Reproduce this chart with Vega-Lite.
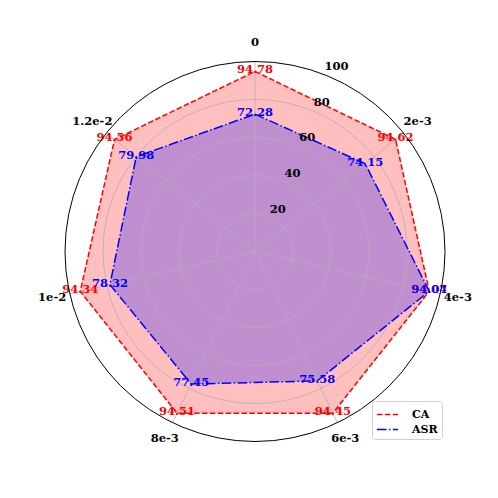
{
  "$schema": "https://vega.github.io/schema/vega-lite/v6.json",
  "width": 498,
  "height": 498,
  "padding": 0,
  "autosize": {"type": "none"},
  "background": "white",
  "config": {"view": {"stroke": null}},
  "datasets": {
    "radar": [
      {"idx": 0, "label": "0", "CA": 94.78, "ASR": 72.28},
      {"idx": 1, "label": "2e-3", "CA": 94.62, "ASR": 74.15},
      {"idx": 2, "label": "4e-3", "CA": 94.07, "ASR": 94.04},
      {"idx": 3, "label": "6e-3", "CA": 94.45, "ASR": 75.58},
      {"idx": 4, "label": "8e-3", "CA": 94.51, "ASR": 77.45},
      {"idx": 5, "label": "1e-2", "CA": 94.34, "ASR": 78.32},
      {"idx": 6, "label": "1.2e-2", "CA": 94.56, "ASR": 79.98}
    ],
    "rings": [{"r": 20}, {"r": 40}, {"r": 60}, {"r": 80}],
    "outer": [{"r": 100}],
    "rticks": [{"r": 20}, {"r": 40}, {"r": 60}, {"r": 80}, {"r": 100}]
  },
  "layer": [
    {
      "data": {"name": "radar"},
      "transform": [
        {"calculate": "datum.idx*2*PI/7", "as": "ang"},
        {"calculate": "datum.CA*sin(datum.ang)", "as": "px"},
        {"calculate": "datum.CA*cos(datum.ang)", "as": "py"}
      ],
      "mark": {"type": "line", "interpolate": "linear-closed", "fill": "#ff0000", "fillOpacity": 0.25, "strokeWidth": 0, "strokeOpacity": 0},
      "encoding": {
        "x": {"field": "px", "type": "quantitative", "scale": {"domain": [-134.21, 127.89], "nice": false, "zero": false}, "axis": null},
        "y": {"field": "py", "type": "quantitative", "scale": {"domain": [-129.74, 132.37], "nice": false, "zero": false}, "axis": null},
        "order": {"field": "idx", "type": "quantitative"}
      }
    },
    {
      "data": {"name": "radar"},
      "transform": [
        {"calculate": "datum.idx*2*PI/7", "as": "ang"},
        {"calculate": "datum.ASR*sin(datum.ang)", "as": "px"},
        {"calculate": "datum.ASR*cos(datum.ang)", "as": "py"}
      ],
      "mark": {"type": "line", "interpolate": "linear-closed", "fill": "#0000ff", "fillOpacity": 0.25, "strokeWidth": 0, "strokeOpacity": 0},
      "encoding": {
        "x": {"field": "px", "type": "quantitative", "axis": null},
        "y": {"field": "py", "type": "quantitative", "axis": null},
        "order": {"field": "idx", "type": "quantitative"}
      }
    },
    {
      "data": {"name": "rings"},
      "mark": {"type": "point", "shape": "circle", "filled": false, "stroke": "#b0b0b0", "strokeWidth": 0.8, "opacity": 1},
      "encoding": {
        "x": {"datum": 0, "type": "quantitative", "axis": null},
        "y": {"datum": 0, "type": "quantitative", "axis": null},
        "size": {"field": "r", "type": "quantitative", "scale": {"type": "pow", "exponent": 2, "domain": [0, 100], "range": [0, 144400]}, "legend": null}
      }
    },
    {
      "data": {"name": "radar"},
      "transform": [
        {"calculate": "datum.idx*2*PI/7", "as": "ang"},
        {"calculate": "100*sin(datum.ang)", "as": "sx"},
        {"calculate": "100*cos(datum.ang)", "as": "sy"}
      ],
      "mark": {"type": "rule", "stroke": "#b0b0b0", "strokeWidth": 0.8},
      "encoding": {
        "x": {"field": "sx", "type": "quantitative", "axis": null},
        "y": {"field": "sy", "type": "quantitative", "axis": null},
        "x2": {"datum": 0},
        "y2": {"datum": 0}
      }
    },
    {
      "data": {"name": "radar"},
      "transform": [
        {"fold": ["CA", "ASR"], "as": ["series", "v"]},
        {"calculate": "datum.idx*2*PI/7", "as": "ang"},
        {"calculate": "datum.v*sin(datum.ang)", "as": "px"},
        {"calculate": "datum.v*cos(datum.ang)", "as": "py"}
      ],
      "mark": {"type": "line", "interpolate": "linear-closed", "strokeWidth": 1.5},
      "encoding": {
        "x": {"field": "px", "type": "quantitative", "axis": null},
        "y": {"field": "py", "type": "quantitative", "axis": null},
        "order": {"field": "idx", "type": "quantitative"},
        "color": {
          "field": "series", "type": "nominal",
          "scale": {"domain": ["CA", "ASR"], "range": ["#ff0000", "#0000ff"]},
          "legend": {"title": null, "orient": "none", "legendX": 372, "legendY": 401, "padding": 4, "strokeColor": "#d0d0d0", "fillColor": "white", "cornerRadius": 3, "symbolType": "M-1.24,0H1.24", "symbolSize": 289, "symbolOffset": 2, "symbolStrokeWidth": 1.5, "labelFont": "DejaVu Serif", "labelFontWeight": "bold", "labelFontSize": 11, "labelColor": "black", "rowPadding": 0, "labelOffset": 15}
        },
        "strokeDash": {
          "field": "series", "type": "nominal",
          "scale": {"domain": ["CA", "ASR"], "range": [[5.5, 2.4], [9.6, 2.4, 1.5, 2.4]]},
          "legend": {"title": null, "orient": "none", "legendX": 372, "legendY": 401, "padding": 4, "strokeColor": "#d0d0d0", "fillColor": "white", "cornerRadius": 3, "symbolType": "M-1.24,0H1.24", "symbolSize": 289, "symbolOffset": 2, "symbolStrokeWidth": 1.5, "labelFont": "DejaVu Serif", "labelFontWeight": "bold", "labelFontSize": 11, "labelColor": "black", "rowPadding": 0, "labelOffset": 15}
        }
      }
    },
    {
      "data": {"name": "radar"},
      "transform": [
        {"calculate": "datum.idx*2*PI/7", "as": "ang"},
        {"calculate": "datum.CA*sin(datum.ang)", "as": "px"},
        {"calculate": "datum.CA*cos(datum.ang)", "as": "py"}
      ],
      "mark": {"type": "text", "color": "#ff0000", "font": "DejaVu Serif", "fontWeight": "bold", "fontSize": 11.5, "align": "center", "baseline": "middle", "dy": -1},
      "encoding": {
        "x": {"field": "px", "type": "quantitative", "axis": null},
        "y": {"field": "py", "type": "quantitative", "axis": null},
        "text": {"field": "CA", "type": "quantitative", "format": ".2f"}
      }
    },
    {
      "data": {"name": "radar"},
      "transform": [
        {"calculate": "datum.idx*2*PI/7", "as": "ang"},
        {"calculate": "datum.ASR*sin(datum.ang)", "as": "px"},
        {"calculate": "datum.ASR*cos(datum.ang)", "as": "py"}
      ],
      "mark": {"type": "text", "color": "#0000ff", "font": "DejaVu Serif", "fontWeight": "bold", "fontSize": 11.5, "align": "center", "baseline": "middle", "dy": -1},
      "encoding": {
        "x": {"field": "px", "type": "quantitative", "axis": null},
        "y": {"field": "py", "type": "quantitative", "axis": null},
        "text": {"field": "ASR", "type": "quantitative", "format": ".2f"}
      }
    },
    {
      "data": {"name": "outer"},
      "mark": {"type": "point", "shape": "circle", "filled": false, "stroke": "black", "strokeWidth": 1, "opacity": 1},
      "encoding": {
        "x": {"datum": 0, "type": "quantitative", "axis": null},
        "y": {"datum": 0, "type": "quantitative", "axis": null},
        "size": {"field": "r", "type": "quantitative", "scale": {"type": "pow", "exponent": 2, "domain": [0, 100], "range": [0, 144400]}, "legend": null}
      }
    },
    {
      "data": {"name": "radar"},
      "transform": [
        {"calculate": "datum.idx*2*PI/7", "as": "ang"},
        {"calculate": "109.5*sin(datum.ang)", "as": "lx"},
        {"calculate": "109.5*cos(datum.ang)", "as": "ly"}
      ],
      "mark": {"type": "text", "color": "black", "font": "DejaVu Serif", "fontWeight": "bold", "fontSize": 11.5, "align": "center", "baseline": "middle"},
      "encoding": {
        "x": {"field": "lx", "type": "quantitative", "axis": null},
        "y": {"field": "ly", "type": "quantitative", "axis": null},
        "text": {"field": "label", "type": "nominal"}
      }
    },
    {
      "data": {"name": "rticks"},
      "transform": [
        {"calculate": "datum.r*1.016*sin(PI*22.4/180)", "as": "tx"},
        {"calculate": "datum.r*1.016*cos(PI*22.4/180)", "as": "ty"}
      ],
      "mark": {"type": "text", "color": "black", "font": "DejaVu Serif", "fontWeight": "bold", "fontSize": 11.5, "align": "center", "baseline": "middle", "dx": 8, "dy": -6},
      "encoding": {
        "x": {"field": "tx", "type": "quantitative", "axis": null},
        "y": {"field": "ty", "type": "quantitative", "axis": null},
        "text": {"field": "r", "type": "quantitative"}
      }
    }
  ]
}
